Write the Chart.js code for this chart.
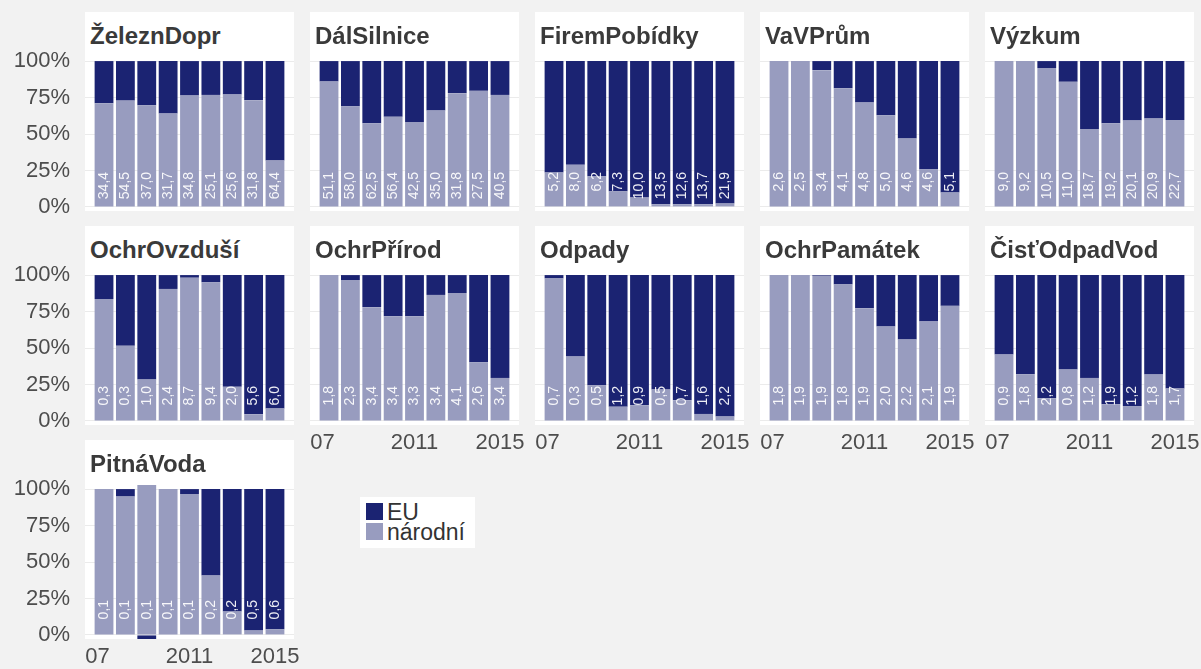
<!DOCTYPE html>
<html lang="cs">
<head>
<meta charset="utf-8">
<title>Podíl EU a národních zdrojů</title>
<script src="https://cdn.jsdelivr.net/npm/chart.js@4.4.1/dist/chart.umd.min.js"></script>
<style>
  html, body { margin: 0; padding: 0; }
  body {
    width: 1201px; height: 669px; position: relative; overflow: hidden;
    background: #f2f2f2;
    font-family: "Liberation Sans", Arial, Helvetica, sans-serif;
  }
  .panel { position: absolute; background: #fff; }
  .strip {
    position: absolute; height: 45px; line-height: 48px;
    font-weight: bold; font-size: 24px; color: #3a3a3a; white-space: nowrap;
  }
  canvas { position: absolute; }
  #legend {
    position: absolute; left: 360px; top: 497px; width: 115px; height: 51px;
    background: #fff; font-size: 23px; color: #333;
  }
  .leg-item { position: absolute; left: 6px; height: 20px; line-height: 20px; white-space: nowrap; }
  .leg-key { position: absolute; left: 0; top: 1px; width: 17px; height: 17px; }
  .leg-text { position: absolute; left: 21px; top: 0; }
</style>
</head>
<body>
<div id="legend"></div>
<script>
// roky a kategorie
const years = [2007, 2008, 2009, 2010, 2011, 2012, 2013, 2014, 2015];
const categories = ['ŽeleznDopr', 'DálSilnice', 'FiremPobídky', 'VaVPrům', 'Výzkum',
  'OchrOvzduší', 'OchrPřírod', 'Odpady', 'OchrPamátek', 'ČisťOdpadVod', 'PitnáVoda'];
// popisky osy x; "07" sedí v originálu trochu vlevo od prvního sloupce
const xTicks = [2006.7, 2011, 2015];
const xTickLabels = ['07', '2011', '2015'];
const yTicks = [0, 25, 50, 75, 100];

// podíl národních zdrojů (%)
const zeleznNarodni = [71.1, 72.9, 69.7, 64.0, 76.4, 76.8, 77.1, 73.2, 31.9];
const dalNarodni = [86.0, 69.0, 57.3, 61.9, 58.3, 66.1, 78.0, 79.6, 76.8];
const firemNarodni = [23.6, 28.9, 21.1, 10.8, 6.4, 1.8, 1.8, 1.8, 2.3];
const vavNarodni = [100, 100, 93.8, 81.4, 71.6, 62.8, 47.0, 25.9, 9.9];
const vyzkumNarodni = [100, 100, 95.2, 85.8, 53.4, 57.3, 59.2, 60.6, 59.6];
const ovzdusiNarodni = [83.6, 51.6, 28.4, 90.5, 98.2, 95.0, 23.4, 4.5, 8.6];
const prirodNarodni = [100, 96.6, 78.0, 71.8, 71.8, 86.4, 87.7, 40.2, 29.5];
const odpadyNarodni = [97.7, 44.1, 24.5, 9.8, 10.7, 21.6, 14.1, 4.8, 3.0];
const pamatekNarodni = [100, 100, 99.5, 93.6, 77.3, 64.8, 55.9, 68.2, 78.9];
const cistNarodni = [45.5, 32.0, 15.5, 35.2, 29.5, 11.4, 10.2, 31.8, 22.3];
const pitnaNarodni = [100, 94.9, 102.8, 100, 96.6, 40.7, 16.1, 3.0, 3.9];

// podíl EU (%)
const zeleznEU = [28.9, 27.1, 30.3, 36.0, 23.6, 23.2, 22.9, 26.8, 68.1];
const dalEU = [14.0, 31.0, 42.7, 38.1, 41.7, 33.9, 22.0, 20.4, 23.2];
const firemEU = [76.4, 71.1, 78.9, 89.2, 93.6, 98.2, 98.2, 98.2, 97.7];
const vavEU = [0, 0, 6.2, 18.6, 28.4, 37.2, 53.0, 74.1, 90.1];
const vyzkumEU = [0, 0, 4.8, 14.2, 46.6, 42.7, 40.8, 39.4, 40.4];
const ovzdusiEU = [16.4, 48.4, 71.6, 9.5, 1.8, 5.0, 76.6, 95.5, 91.4];
const prirodEU = [0, 3.4, 22.0, 28.2, 28.2, 13.6, 12.3, 59.8, 70.5];
const odpadyEU = [2.3, 55.9, 75.5, 90.2, 89.3, 78.4, 85.9, 95.2, 97.0];
const pamatekEU = [0, 0, 0.5, 6.4, 22.7, 35.2, 44.1, 31.8, 21.1];
const cistEU = [54.5, 68.0, 84.5, 64.8, 70.5, 88.6, 89.8, 68.2, 77.7];
const pitnaEU = [0, 5.1, -2.8, 0, 3.4, 59.3, 83.9, 97.0, 96.1];

// popisky ve sloupcích (mld. Kč)
const zeleznPopisky = [34.4, 54.5, 37.0, 31.7, 34.8, 25.1, 25.6, 31.8, 64.4];
const dalPopisky = [51.1, 58.0, 62.5, 56.4, 42.5, 35.0, 31.8, 27.5, 40.5];
const firemPopisky = [5.2, 8.0, 6.2, 7.3, 10.0, 13.5, 12.6, 13.7, 21.9];
const vavPopisky = [2.6, 2.5, 3.4, 4.1, 4.8, 5.0, 4.6, 4.6, 5.1];
const vyzkumPopisky = [9.0, 9.2, 10.5, 11.0, 18.7, 19.2, 20.1, 20.9, 22.7];
const ovzdusiPopisky = [0.3, 0.3, 1.0, 2.4, 8.7, 9.4, 2.0, 5.6, 6.0];
const prirodPopisky = [1.8, 2.3, 3.4, 3.4, 3.3, 3.4, 4.1, 2.6, 3.4];
const odpadyPopisky = [0.7, 0.3, 0.5, 1.2, 0.9, 0.5, 0.7, 1.6, 2.2];
const pamatekPopisky = [1.8, 1.9, 1.9, 1.8, 1.9, 2.0, 2.2, 2.1, 1.9];
const cistPopisky = [0.9, 1.8, 2.2, 0.8, 1.2, 1.9, 1.2, 1.8, 1.7];
const pitnaPopisky = [0.1, 0.1, 0.1, 0.1, 0.1, 0.2, 0.2, 0.5, 0.6];

const narodniAll = [zeleznNarodni, dalNarodni, firemNarodni, vavNarodni, vyzkumNarodni,
  ovzdusiNarodni, prirodNarodni, odpadyNarodni, pamatekNarodni, cistNarodni, pitnaNarodni];
const euAll = [zeleznEU, dalEU, firemEU, vavEU, vyzkumEU,
  ovzdusiEU, prirodEU, odpadyEU, pamatekEU, cistEU, pitnaEU];
const popiskyAll = [zeleznPopisky, dalPopisky, firemPopisky, vavPopisky, vyzkumPopisky,
  ovzdusiPopisky, prirodPopisky, odpadyPopisky, pamatekPopisky, cistPopisky, pitnaPopisky];

const FONT = '"Liberation Sans", Arial, Helvetica, sans-serif';
const EU_COLOR = '#1b2372';
const NAR_COLOR = '#989cbf';
const TICK_COLOR = '#4d4d4d';

// rozložení panelů
const colLeft = [85, 310, 535, 760, 985];
const rowTop = [12, 226, 440];
const PANEL_W = 209;
const STRIP_H = 45;
const PLOT_H = 154;
const AXIS_W = 85;
const XAXIS_H = 28;
const PAD = 10;

// bílé popisky otočené o 90°
const valueLabels = {
  id: 'valueLabels',
  afterDatasetsDraw(chart, args, opts) {
    const ctx = chart.ctx;
    const x = chart.scales.x;
    const y = chart.scales.y;
    ctx.save();
    ctx.font = '14px ' + FONT;
    ctx.fillStyle = 'rgba(255,255,255,0.92)';
    ctx.textAlign = 'right';
    ctx.textBaseline = 'middle';
    opts.values.forEach((v, i) => {
      ctx.save();
      ctx.translate(x.getPixelForValue(years[i]), y.getPixelForValue(24));
      ctx.rotate(-Math.PI / 2);
      ctx.fillText(v.toFixed(1).replace('.', ','), 0, 0);
      ctx.restore();
    });
    ctx.restore();
  },
};

let charts = [];

categories.forEach((name, i) => {
  const row = Math.floor(i / 5);
  const col = i % 5;
  const isCol0 = col === 0;
  const isBottom = row === 2 || (row === 1 && col > 0);
  const axisW = isCol0 ? AXIS_W : 0;
  const padBottom = isBottom ? 0 : PAD;

  const panel = document.createElement('div');
  panel.className = 'panel';
  panel.style.left = colLeft[col] + 'px';
  panel.style.top = rowTop[row] + 'px';
  panel.style.width = PANEL_W + 'px';
  panel.style.height = STRIP_H + PLOT_H + 'px';
  document.body.appendChild(panel);

  const strip = document.createElement('div');
  strip.className = 'strip';
  strip.style.left = colLeft[col] + 5 + 'px';
  strip.style.top = rowTop[row] + 'px';
  strip.textContent = name;
  document.body.appendChild(strip);

  const canvas = document.createElement('canvas');
  canvas.width = PAD + axisW + PANEL_W + PAD;
  canvas.height = PAD + PLOT_H + (isBottom ? XAXIS_H : padBottom);
  canvas.style.left = colLeft[col] - axisW - PAD + 'px';
  canvas.style.top = rowTop[row] + STRIP_H - PAD + 'px';
  document.body.appendChild(canvas);

  const chart = new Chart(canvas, {
    type: 'bar',
    data: {
      labels: years,
      datasets: [
        { label: 'národní', data: narodniAll[i], backgroundColor: NAR_COLOR, borderWidth: 0 },
        { label: 'EU', data: euAll[i], backgroundColor: EU_COLOR, borderWidth: 0 },
      ],
    },
    options: {
      responsive: false,
      animation: false,
      categoryPercentage: 1,
      barPercentage: 0.88,
      layout: { padding: { top: PAD, left: PAD, right: PAD, bottom: padBottom } },
      plugins: {
        legend: { display: false },
        tooltip: { enabled: false },
        valueLabels: { values: popiskyAll[i] },
      },
      scales: {
        x: {
          type: 'linear',
          stacked: true,
          offset: false,
          min: 2006.11,
          max: 2015.89,
          grid: { display: false },
          border: { display: false },
          ticks: {
            display: isBottom,
            autoSkip: false,
            maxRotation: 0,
            padding: -3,
            color: TICK_COLOR,
            font: { family: FONT, size: 22 },
            callback: (v, k) => xTickLabels[k],
          },
          afterBuildTicks: (s) => { s.ticks = xTicks.map((v) => ({ value: v })); },
          afterFit: (s) => {
            s.height = isBottom ? XAXIS_H : 0;
            s.paddingLeft = 0;
            s.paddingRight = 0;
          },
        },
        y: {
          stacked: true,
          min: -2.8,
          max: 102.8,
          grid: { color: '#ebebeb', drawTicks: false },
          border: { display: false },
          ticks: {
            display: isCol0,
            padding: 15,
            color: TICK_COLOR,
            font: { family: FONT, size: 22 },
            callback: (v) => v + '%',
          },
          afterBuildTicks: (s) => { s.ticks = yTicks.map((v) => ({ value: v })); },
          afterFit: (s) => {
            s.width = axisW;
            s.paddingTop = 0;
            s.paddingBottom = 0;
          },
        },
      },
    },
    plugins: [valueLabels],
  });
  charts.push(chart);
});

// legenda z posledního grafu (EU nahoře)
const legendItems = Chart.defaults.plugins.legend.labels.generateLabels(charts[charts.length - 1]).reverse();
const legend = document.getElementById('legend');
legendItems.forEach((item, k) => {
  const el = document.createElement('div');
  el.className = 'leg-item';
  el.style.top = 5 + k * 20 + 'px';
  el.innerHTML = '<span class="leg-key" style="background:' + item.fillStyle + '"></span>' +
    '<span class="leg-text">' + item.text + '</span>';
  legend.appendChild(el);
});
</script>
</body>
</html>
